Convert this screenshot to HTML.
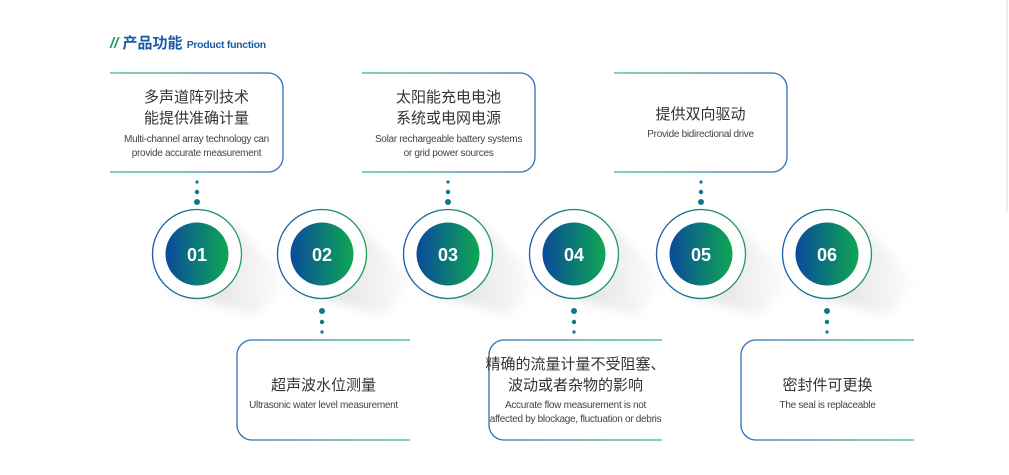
<!DOCTYPE html>
<html><head><meta charset="utf-8"><style>
body{margin:0;width:1009px;height:475px;background:#fff;overflow:hidden;font-family:"Liberation Sans","Noto Sans CJK SC",sans-serif;position:relative}
.t{position:absolute;text-align:center;color:#333;white-space:nowrap}
.cn{font-size:15px;line-height:21px;color:#333}
.en{font-size:10px;line-height:14px;color:#444;letter-spacing:-0.3px}
</style></head><body>
<svg width="1009" height="475" style="position:absolute;left:0;top:0">
<defs>
<linearGradient id="g" x1="0" x2="1"><stop offset="0" stop-color="#0a4a9c"/><stop offset="1" stop-color="#0fa752"/></linearGradient>
<linearGradient id="lt" x1="0" x2="1"><stop offset="0" stop-color="#3cb878"/><stop offset="1" stop-color="#2a6fb8"/></linearGradient>
<linearGradient id="lb" x1="0" x2="1"><stop offset="0" stop-color="#2a6fb8"/><stop offset="1" stop-color="#3cb878"/></linearGradient>
<linearGradient id="ring" x1="0" x2="1"><stop offset="0" stop-color="#1a5aa8"/><stop offset="1" stop-color="#1aa05a"/></linearGradient>
<linearGradient id="sh" x1="0" y1="0" x2="1" y2="0"><stop offset="0" stop-color="#000" stop-opacity="0.16"/><stop offset="1" stop-color="#000" stop-opacity="0"/></linearGradient>
<filter id="b"><feGaussianBlur stdDeviation="5"/></filter>
</defs>
<line x1="1007" y1="0" x2="1007" y2="212" stroke="#e6e6e6" stroke-width="1.5"/>
<g fill="none" stroke-width="1.3">
<path d="M110 73 H268 A15 15 0 0 1 283 88 V157 A15 15 0 0 1 268 172 H110" stroke="url(#lt)"/>
<path d="M362 73 H520 A15 15 0 0 1 535 88 V157 A15 15 0 0 1 520 172 H362" stroke="url(#lt)"/>
<path d="M614 73 H772 A15 15 0 0 1 787 88 V157 A15 15 0 0 1 772 172 H614" stroke="url(#lt)"/>
<path d="M410 340 H252 A15 15 0 0 0 237 355 V425 A15 15 0 0 0 252 440 H410" stroke="url(#lb)"/>
<path d="M662 340 H504 A15 15 0 0 0 489 355 V425 A15 15 0 0 0 504 440 H662" stroke="url(#lb)"/>
<path d="M914 340 H756 A15 15 0 0 0 741 355 V425 A15 15 0 0 0 756 440 H914" stroke="url(#lb)"/>
</g>
<g fill="#0a7a8a">
<circle cx="197" cy="182" r="1.6"/><circle cx="197" cy="192" r="2.2"/><circle cx="197" cy="202" r="3"/>
<circle cx="448" cy="182" r="1.6"/><circle cx="448" cy="192" r="2.2"/><circle cx="448" cy="202" r="3"/>
<circle cx="701" cy="182" r="1.6"/><circle cx="701" cy="192" r="2.2"/><circle cx="701" cy="202" r="3"/>
<circle cx="322" cy="311" r="3"/><circle cx="322" cy="322" r="2.2"/><circle cx="322" cy="332" r="1.6"/>
<circle cx="574" cy="311" r="3"/><circle cx="574" cy="322" r="2.2"/><circle cx="574" cy="332" r="1.6"/>
<circle cx="827" cy="311" r="3"/><circle cx="827" cy="322" r="2.2"/><circle cx="827" cy="332" r="1.6"/>
</g>
<g filter="url(#b)">
<polygon points="230,222 290,282 258,316 170,290" fill="url(#sh)"/>
<polygon points="355,222 415,282 383,316 295,290" fill="url(#sh)"/>
<polygon points="481,222 541,282 509,316 421,290" fill="url(#sh)"/>
<polygon points="607,222 667,282 635,316 547,290" fill="url(#sh)"/>
<polygon points="733,222 793,282 761,316 673,290" fill="url(#sh)"/>
<polygon points="859,222 919,282 887,316 799,290" fill="url(#sh)"/>
</g>
<g stroke="url(#ring)" stroke-width="1.3" fill="#fff">
<circle cx="197" cy="254" r="44.5"/><circle cx="322" cy="254" r="44.5"/><circle cx="448" cy="254" r="44.5"/>
<circle cx="574" cy="254" r="44.5"/><circle cx="701" cy="254" r="44.5"/><circle cx="827" cy="254" r="44.5"/>
</g>
<g fill="url(#g)">
<circle cx="197" cy="254" r="31.5"/><circle cx="322" cy="254" r="31.5"/><circle cx="448" cy="254" r="31.5"/>
<circle cx="574" cy="254" r="31.5"/><circle cx="701" cy="254" r="31.5"/><circle cx="827" cy="254" r="31.5"/>
</g>
<g fill="#fff" font-size="18" font-weight="bold" text-anchor="middle" font-family="Liberation Sans,sans-serif">
<text x="197" y="261">01</text><text x="322" y="261">02</text><text x="448" y="261">03</text>
<text x="574" y="261">04</text><text x="701" y="261">05</text><text x="827" y="261">06</text>
</g>
</svg>
<div style="position:absolute;left:110px;top:32px;font-size:15px;font-weight:bold;color:#1a5aa8;white-space:nowrap"><span style="color:#1aa05a;font-style:italic">//</span> 产品功能 <span style="font-size:10.5px;letter-spacing:-0.3px">Product function</span></div>
<div class="t" style="left:110px;top:87px;width:173px"><div class="cn">多声道阵列技术<br>能提供准确计量</div><div class="en" style="margin-top:4px">Multi-channel array technology can<br>provide accurate measurement</div></div>
<div class="t" style="left:362px;top:87px;width:173px"><div class="cn">太阳能充电电池<br>系统或电网电源</div><div class="en" style="margin-top:4px">Solar rechargeable battery systems<br>or grid power sources</div></div>
<div class="t" style="left:614px;top:104px;width:173px"><div class="cn">提供双向驱动</div><div class="en" style="margin-top:3px">Provide bidirectional drive</div></div>
<div class="t" style="left:237px;top:375px;width:173px"><div class="cn">超声波水位测量</div><div class="en" style="margin-top:3px">Ultrasonic water level measurement</div></div>
<div class="t" style="left:469px;top:354px;width:213px"><div class="cn">精确的流量计量不受阻塞、<br>波动或者杂物的影响</div><div class="en" style="margin-top:3px">Accurate flow measurement is not<br>affected by blockage, fluctuation or debris</div></div>
<div class="t" style="left:741px;top:375px;width:173px"><div class="cn">密封件可更换</div><div class="en" style="margin-top:3px">The seal is replaceable</div></div>
</body></html>
